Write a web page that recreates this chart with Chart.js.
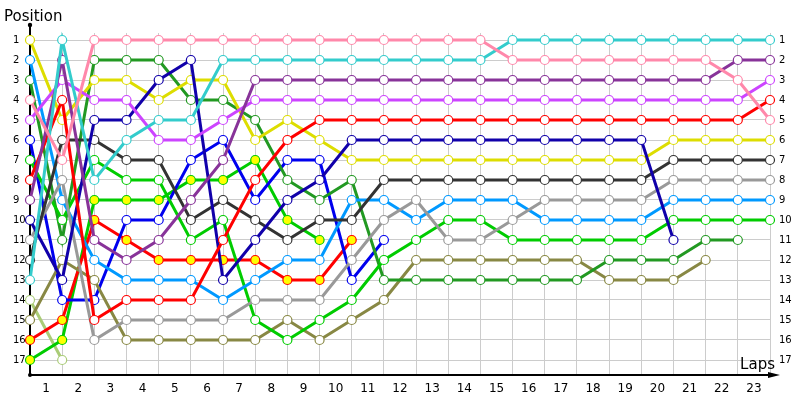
<!DOCTYPE html>
<html>
<head>
<meta charset="utf-8">
<script src="https://cdn.jsdelivr.net/npm/chart.js@4.4.0/dist/chart.umd.min.js"></script>
<style>
  html, body { margin: 0; padding: 0; background: #fff; }
  #wrap { width: 800px; height: 400px; }
</style>
</head>
<body>
<div id="wrap"><canvas id="chart"></canvas></div>
<script>
// tick labels
const lapLabels = ['1','2','3','4','5','6','7','8','9','10','11','12','13','14','15','16','17','18','19','20','21','22','23'];
const positions = [1,2,3,4,5,6,7,8,9,10,11,12,13,14,15,16,17];

// position of each car at each timing column (0 = grid)
const yellow     = [1,5,3,3,4,3,3,6,5,6,7,7,7,7,7,7,7,7,7,7,6,6,6,6];
const skyBlue    = [2,9,12,13,13,13,14,13,12,12,9,9,10,9,9,9,10,10,10,10,9,9,9,9];
const darkGreen  = [3,11,2,2,2,4,4,5,8,9,8,13,13,13,13,13,13,13,12,12,12,11,11];
const pink       = [4,7,1,1,1,1,1,1,1,1,1,1,1,1,1,2,2,2,2,2,2,2,3,5];
const violet     = [5,3,4,4,6,6,5,4,4,4,4,4,4,4,4,4,4,4,4,4,4,4,4,3];
const blue       = [6,14,14,10,10,7,6,9,7,7,13,11];
const green      = [7,10,7,8,8,11,10,15,16,15,14,12,11,10,10,11,11,11,11,11,10,10,10,10];
const red        = [8,4,15,14,14,14,11,8,6,5,5,5,5,5,5,5,5,5,5,5,5,5,5,4];
const purple     = [9,2,11,12,11,9,7,3,3,3,3,3,3,3,3,3,3,3,3,3,3,3,2,2];
const navy       = [10,13,5,5,3,2,13,11,9,8,6,6,6,6,6,6,6,6,6,6,11];
const lightGray  = [11,8,16,15,15,15,15,14,14,14,12,10,9,11,11,10,9,9,9,9,8,8,8,8];
const darkGray   = [12,6,6,7,7,10,9,10,11,10,10,8,8,8,8,8,8,8,8,8,7,7,7,7];
const cyan       = [13,1,8,6,5,5,2,2,2,2,2,2,2,2,2,1,1,1,1,1,1,1,1,1];
const lightOlive = [14,17];
const olive      = [15,12,13,16,16,16,16,16,15,16,15,14,12,12,12,12,12,12,13,13,13,12];
const red2       = [16,15,10,11,12,12,12,12,13,13,11];
const green2     = [17,16,9,9,9,8,8,7,10,11];

const series = [
    { data: pink,       color: '#ff88aa' },
    { data: cyan,       color: '#33cccc' },
    { data: purple,     color: '#883399' },
    { data: violet,     color: '#cc44ff' },
    { data: red,        color: '#ff0000' },
    { data: navy,       color: '#1100aa' },
    { data: yellow,     color: '#dddd00' },
    { data: darkGray,   color: '#333333' },
    { data: lightGray,  color: '#999999' },
    { data: skyBlue,    color: '#0099ff' },
    { data: green,      color: '#00cc00' },
    { data: darkGreen,  color: '#229922' },
    { data: olive,      color: '#888844' },
    { data: blue,       color: '#0000ee' },
    { data: red2,       color: '#ff0000', fill: '#ffff00' },
    { data: green2,     color: '#00cc00', fill: '#ffff00' },
    { data: lightOlive, color: '#aacc77' }
];

const FONT = 'DejaVu Sans';

// axis lines, arrow and axis titles
const axisDecor = {
    id: 'axisDecor',
    beforeDatasetsDraw(chart) {
        const ctx = chart.ctx;
        const a = chart.chartArea;
        ctx.save();
        ctx.strokeStyle = '#000';
        ctx.fillStyle = '#000';
        ctx.lineWidth = 2;
        ctx.beginPath();
        ctx.moveTo(a.left, a.top - 8);
        ctx.lineTo(a.left, a.bottom);
        ctx.lineTo(a.right + 4, a.bottom);
        ctx.stroke();
        // arrow
        ctx.beginPath();
        ctx.moveTo(a.right + 10, a.bottom);
        ctx.lineTo(a.right - 2, a.bottom - 3);
        ctx.lineTo(a.right - 2, a.bottom + 3);
        ctx.closePath();
        ctx.fill();
        // dots
        ctx.beginPath();
        ctx.arc(a.left, a.top - 8, 2.2, 0, Math.PI * 2);
        ctx.fill();
        ctx.beginPath();
        ctx.arc(a.left, a.bottom, 2, 0, Math.PI * 2);
        ctx.fill();
        ctx.restore();
    },
    afterDraw(chart) {
        const ctx = chart.ctx;
        const a = chart.chartArea;
        ctx.save();
        ctx.fillStyle = '#000';
        ctx.font = '15px "' + FONT + '"';
        ctx.textBaseline = 'alphabetic';
        ctx.textAlign = 'left';
        ctx.fillText('Position', 4, 21);
        ctx.textAlign = 'right';
        ctx.fillText('Laps', a.right + 5, a.bottom - 6);
        ctx.restore();
    }
};

const ctx = document.getElementById('chart').getContext('2d');
new Chart(ctx, {
    type: 'line',
    data: {
        datasets: series.map(s => ({
            data: s.data.map((v, i) => ({ x: i, y: v })),
            borderColor: s.color,
            backgroundColor: s.color,
            borderWidth: 3,
            pointRadius: 4.5,
            pointBorderWidth: 1.2,
            pointBorderColor: s.color,
            pointBackgroundColor: s.fill || '#ffffff',
            tension: 0,
            fill: false,
            clip: false
        }))
    },
    options: {
        responsive: true,
        maintainAspectRatio: false,
        animation: false,
        layout: { padding: { top: 33, left: 13, right: 0, bottom: 0 } },
        plugins: {
            legend: { display: false },
            tooltip: { enabled: false },
            title: { display: false }
        },
        scales: {
            x: {
                type: 'linear',
                min: 0,
                max: 23,
                afterBuildTicks: scale => {
                    const t = [];
                    for (let i = 0; i <= 23; i++) {
                        t.push({ value: i });
                        if (i < lapLabels.length) t.push({ value: i + 0.5 });
                    }
                    scale.ticks = t;
                },
                afterFit: scale => { scale.height = 25; },
                border: { display: false },
                grid: {
                    drawTicks: false,
                    color: c => (c.tick && Number.isInteger(c.tick.value)) ? '#cccccc' : 'rgba(0,0,0,0)',
                    lineWidth: 1
                },
                ticks: {
                    autoSkip: false,
                    maxRotation: 0,
                    padding: 7,
                    color: '#000',
                    font: { family: FONT, size: 12 },
                    callback: v => Number.isInteger(v) ? '' : lapLabels[Math.floor(v)]
                }
            },
            y: {
                type: 'linear',
                position: 'left',
                reverse: true,
                min: 0.65,
                max: 17.75,
                afterBuildTicks: scale => { scale.ticks = positions.map(p => ({ value: p })); },
                afterFit: scale => { scale.width = 17; },
                border: { display: false },
                grid: { drawTicks: false, color: '#cccccc', lineWidth: 1 },
                ticks: {
                    crossAlign: 'far',
                    color: '#000',
                    font: { family: FONT, size: 10 },
                    callback: v => String(v)
                }
            },
            y2: {
                type: 'linear',
                position: 'right',
                reverse: true,
                min: 0.65,
                max: 17.75,
                afterBuildTicks: scale => { scale.ticks = positions.map(p => ({ value: p })); },
                afterFit: scale => { scale.width = 30; },
                border: { display: false },
                grid: { display: false, drawTicks: false },
                ticks: {
                    padding: 9,
                    color: '#000',
                    font: { family: FONT, size: 10 },
                    callback: v => String(v)
                }
            }
        }
    },
    plugins: [axisDecor]
});
</script>
</body>
</html>
